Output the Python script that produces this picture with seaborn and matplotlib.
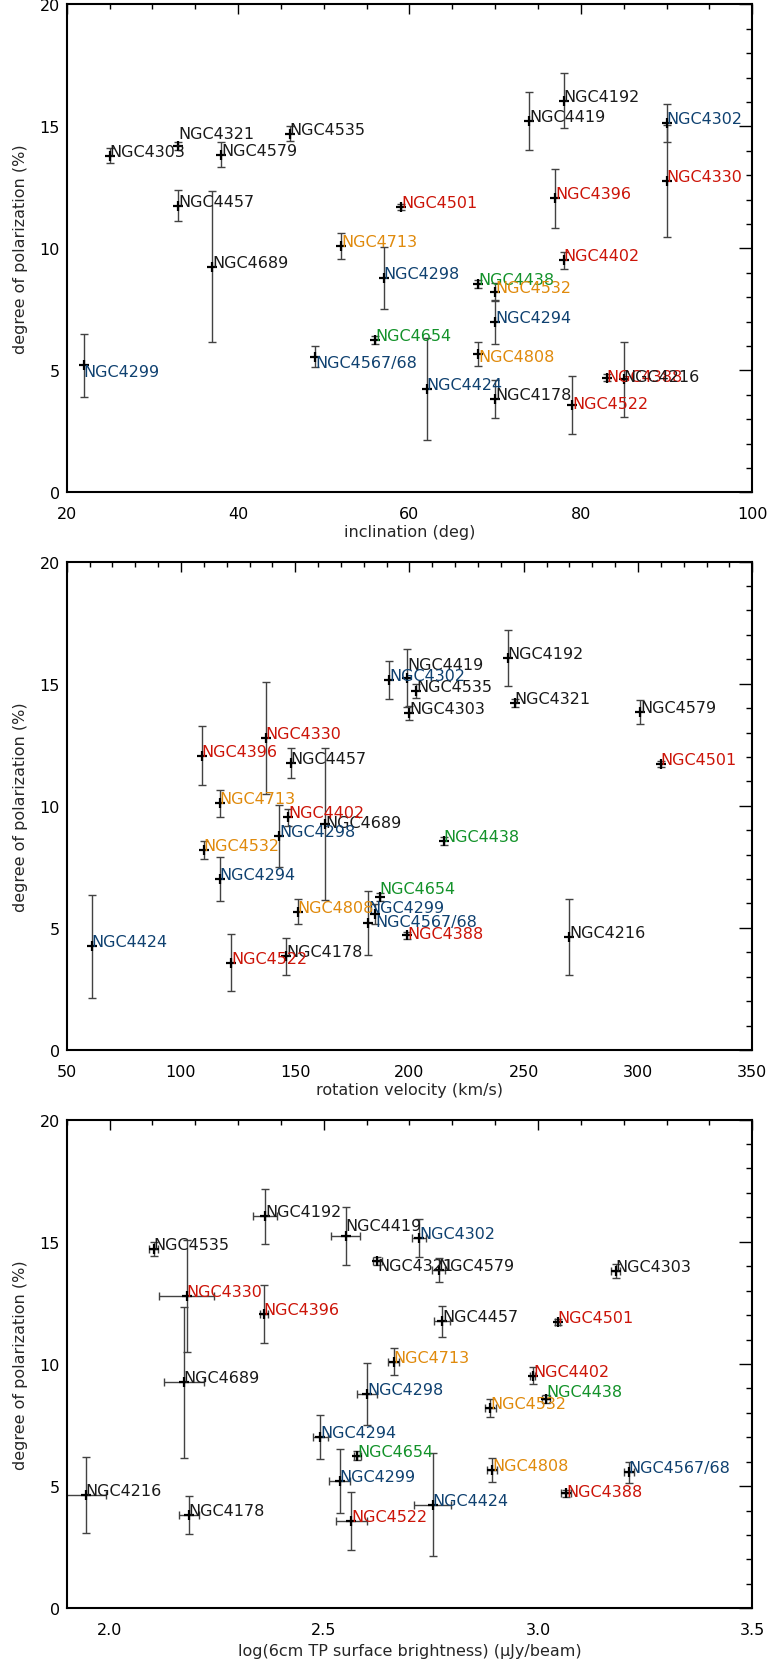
import matplotlib
matplotlib.use("Agg")
import matplotlib.pyplot as plt
from matplotlib.ticker import MultipleLocator, FormatStrFormatter
import numpy as np
import pandas as pd
import seaborn as sns

# Virgo cluster spirals: polarized fraction vs. inclination, rotation speed
# and total-power surface brightness
galaxy = ["NGC4303", "NGC4321", "NGC4579", "NGC4535", "NGC4457", "NGC4689",
          "NGC4713", "NGC4298", "NGC4299", "NGC4567/68", "NGC4654", "NGC4419",
          "NGC4192", "NGC4302", "NGC4330", "NGC4396", "NGC4501", "NGC4402",
          "NGC4438", "NGC4532", "NGC4294", "NGC4808", "NGC4424", "NGC4178",
          "NGC4522", "NGC4388", "NGC4216"]
inclination = [25, 33, 38, 46, 33, 37, 52, 57, 22, 49, 56, 74, 78, 90, 90, 77,
               59, 78, 68, 70, 70, 68, 62, 70, 79, 83, 85]
rot_velocity = [200, 246, 301, 203, 148, 163, 117, 143, 182, 185, 187, 199,
                243, 191, 137, 109, 310, 147, 215, 110, 117, 151, 61, 146,
                122, 199, 270]
log_tp_sb = [3.181, 2.625, 2.768, 2.103, 2.776, 2.173, 2.663, 2.601, 2.537,
             3.212, 2.578, 2.551, 2.363, 2.722, 2.180, 2.360, 3.046, 2.988,
             3.019, 2.889, 2.492, 2.893, 2.754, 2.185, 2.564, 3.066, 1.944]
log_tp_sb_err = [0.011, 0.010, 0.015, 0.010, 0.019, 0.047, 0.012, 0.024,
                 0.025, 0.012, 0.008, 0.033, 0.028, 0.016, 0.064, 0.010,
                 0.006, 0.006, 0.010, 0.012, 0.017, 0.012, 0.044, 0.023,
                 0.036, 0.012, 0.047]
pol_degree = [13.8, 14.2, 13.85, 14.7, 11.75, 9.25, 10.1, 8.77, 5.2, 5.56,
              6.25, 15.23, 16.05, 15.15, 12.78, 12.05, 11.7, 9.52, 8.55, 8.2,
              7.0, 5.67, 4.24, 3.83, 3.58, 4.7, 4.63]
pol_degree_err = [0.3, 0.17, 0.5, 0.3, 0.63, 3.1, 0.55, 1.27, 1.3, 0.42,
                  0.17, 1.2, 1.13, 0.78, 2.3, 1.2, 0.12, 0.35, 0.16, 0.37,
                  0.9, 0.5, 2.1, 0.77, 1.18, 0.15, 1.55]
group = ["k", "k", "k", "k", "k", "k", "orange", "blue", "blue", "blue",
         "green", "k", "k", "blue", "red", "red", "red", "red", "green",
         "orange", "blue", "orange", "blue", "k", "red", "red", "k"]

palette = {"k": "#1a1a1a", "blue": "#0f4170", "red": "#cc1408",
           "orange": "#e08a0c", "green": "#13922a"}

# label nudges (pixels downward from the point) where names would collide
label_drop = [
    {"NGC4321": -8, "NGC4299": 11, "NGC4567/68": 10, "NGC4808": 7,
     "NGC4522": 3, "NGC4388": 3, "NGC4216": 2},
    {"NGC4419": -9, "NGC4654": -4, "NGC4299": -11, "NGC4567/68": 12,
     "NGC4388": 3, "NGC4689": 3},
    {"NGC4419": -6, "NGC4321": 9, "NGC4438": -3, "NGC4388": 3},
]

df = pd.DataFrame({
    "galaxy": galaxy, "incl": inclination, "vrot": rot_velocity,
    "logsb": log_tp_sb, "logsb_err": log_tp_sb_err,
    "pol": pol_degree, "pol_err": pol_degree_err, "group": group,
})

sns.set_style("white")
plt.rcParams["font.family"] = ["DejaVu Sans"]
plt.rcParams["font.size"] = 11.5

fig = plt.figure(figsize=(7.71, 16.65), dpi=100)
rects = [
    [0.0865, 0.7037, 0.8892, 0.2930],
    [0.0865, 0.3688, 0.8892, 0.2933],
    [0.0865, 0.03345, 0.8892, 0.2935],
]
panels = [
    dict(x="incl", xerr=None, xlabel="inclination (deg)", xlim=(20, 100),
         major=20, minor=5, fmt="%d", labelpad=2),
    dict(x="vrot", xerr=None, xlabel="rotation velocity (km/s)",
         xlim=(50, 350), major=50, minor=10, fmt="%d", labelpad=2),
    dict(x="logsb", xerr="logsb_err",
         xlabel="log(6cm TP surface brightness) (\u03bcJy/beam)",
         xlim=(1.9, 3.5), major=0.5, minor=0.1, fmt="%.1f", labelpad=4),
]

for rect, p, drops in zip(rects, panels, label_drop):
    ax = fig.add_axes(rect)
    xerr = df[p["xerr"]] if p["xerr"] else None
    ax.errorbar(df[p["x"]], df["pol"], yerr=df["pol_err"], xerr=xerr,
                fmt="none", ecolor="#424242", elinewidth=1.0,
                capsize=3.1, capthick=1.0, zorder=2)
    sns.scatterplot(data=df, x=p["x"], y="pol", marker="+", color="black",
                    s=60, linewidth=1.6, ax=ax, zorder=3, legend=False)
    for _, row in df.iterrows():
        ax.annotate(row["galaxy"], (row[p["x"]], row["pol"]),
                    xytext=(0, -drops.get(row["galaxy"], 0)),
                    textcoords="offset pixels", ha="left", va="baseline",
                    color=palette[row["group"]], fontsize=11.5, zorder=4)

    ax.set_xlim(*p["xlim"])
    ax.set_ylim(0, 20)
    ax.xaxis.set_major_locator(MultipleLocator(p["major"]))
    ax.xaxis.set_minor_locator(MultipleLocator(p["minor"]))
    ax.xaxis.set_major_formatter(FormatStrFormatter(p["fmt"]))
    ax.yaxis.set_major_locator(MultipleLocator(5))
    ax.yaxis.set_minor_locator(MultipleLocator(1))
    ax.tick_params(axis="both", which="both", direction="in",
                   top=True, right=True, color="black", width=1.0,
                   labelsize=11.5, labelcolor="black")
    ax.tick_params(axis="x", which="major", length=7.2, pad=10)
    ax.tick_params(axis="x", which="minor", length=3.6)
    ax.tick_params(axis="y", which="major", length=9.6, pad=5)
    ax.tick_params(axis="y", which="minor", length=4.3)
    for sp in ax.spines.values():
        sp.set_visible(True)
        sp.set_color("black")
        sp.set_linewidth(1.5)
    ax.set_xlabel(p["xlabel"], fontsize=11.5, labelpad=p["labelpad"])
    ax.set_ylabel("degree of polarization (%)", fontsize=11.5, labelpad=8)

fig.savefig("out.png", dpi=100)
